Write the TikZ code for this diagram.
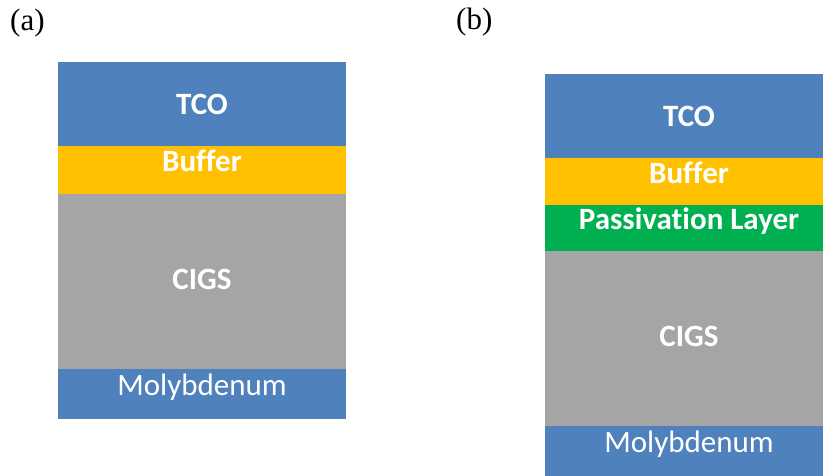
\documentclass[tikz,border=0pt]{standalone}
\usepackage{fontspec}
\setmainfont{Liberation Serif}
\newfontfamily\calibri[Ligatures=NoCommon]{Carlito}
\usetikzlibrary{positioning}
\definecolor{tcoblue}{HTML}{4F81BD}
\definecolor{bufgold}{HTML}{FFC000}
\definecolor{cigsgray}{HTML}{A5A5A5}
\definecolor{passgreen}{HTML}{00B050}
\begin{document}
\begin{tikzpicture}[x=1pt,y=-1pt]
	\tikzstyle{layer}=[rectangle,inner sep=0pt,minimum width=288pt,anchor=north west]
	\tikzstyle{lbl}=[text=white,anchor=base,inner sep=0pt,font=\calibri\fontsize{31}{36}\selectfont]
	\tikzstyle{bold lbl}=[lbl,font=\calibri\bfseries\fontsize{31}{36}\selectfont]
	\tikzstyle{tag}=[anchor=base west,inner sep=0pt,font=\fontsize{31}{36}\selectfont]
	\useasboundingbox (0,0) rectangle (823,475);
	\clip (0,0) rectangle (823,475);
	% (a) without passivation
	\node[tag] (taga) at (10,30) {(a)};
	\node[layer,fill=tcoblue,minimum height=84pt] (tcoa) at (58,62) {};
	\node[layer,fill=bufgold,minimum height=48pt] (bufa) at (58,146) {};
	\node[layer,fill=cigsgray,minimum height=175pt] (cigsa) at (58,194) {};
	\node[layer,fill=tcoblue,minimum height=50pt] (moa) at (58,369) {};
	\node[bold lbl] (tcoa-t) at (202,114) {TCO};
	\node[bold lbl] (bufa-t) at (202,171) {Buffer};
	\node[bold lbl] (cigsa-t) at (202,289) {CIGS};
	\node[lbl] (moa-t) at (202,395) {Molybdenum};
	% (b) with passivation layer
	\node[tag] (tagb) at (456,29) {(b)};
	\node[layer,fill=tcoblue,minimum height=84pt] (tcob) at (545,74) {};
	\node[layer,fill=bufgold,minimum height=47pt] (bufb) at (545,158) {};
	\node[layer,fill=passgreen,minimum height=46pt] (passb) at (545,205) {};
	\node[layer,fill=cigsgray,minimum height=175pt] (cigsb) at (545,251) {};
	\node[layer,fill=tcoblue,minimum height=50pt] (mob) at (545,426) {};
	\node[bold lbl] (tcob-t) at (689,126) {TCO};
	\node[bold lbl] (bufb-t) at (689,183) {Buffer};
	\node[bold lbl] (passb-t) at (689,229) {Passivation Layer};
	\node[bold lbl] (cigsb-t) at (689,346) {CIGS};
	\node[lbl] (mob-t) at (689,452) {Molybdenum};
\end{tikzpicture}
\end{document}
